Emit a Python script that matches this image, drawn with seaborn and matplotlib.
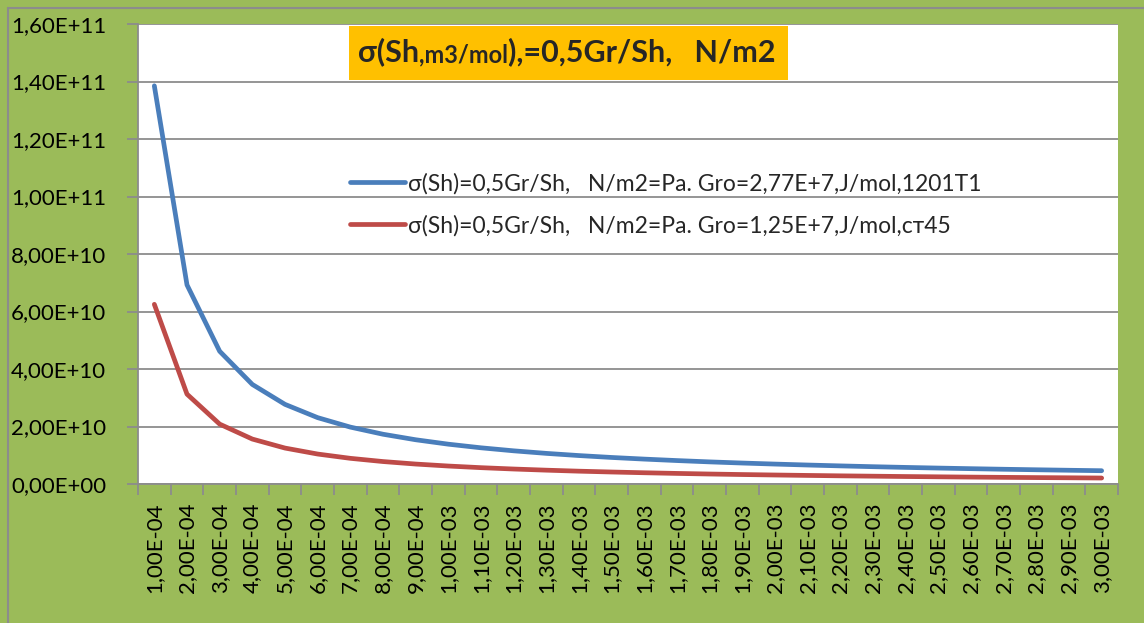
import matplotlib
matplotlib.use("Agg")
import matplotlib.pyplot as plt
from matplotlib.patches import Rectangle
from matplotlib.lines import Line2D
from matplotlib.text import Annotation
import numpy as np
import pandas as pd
import seaborn as sns

# Specific surface Sh, m3/mol (category labels)
sh_labels = [
    "1,00E-04", "2,00E-04", "3,00E-04", "4,00E-04", "5,00E-04", "6,00E-04",
    "7,00E-04", "8,00E-04", "9,00E-04", "1,00E-03", "1,10E-03", "1,20E-03",
    "1,30E-03", "1,40E-03", "1,50E-03", "1,60E-03", "1,70E-03", "1,80E-03",
    "1,90E-03", "2,00E-03", "2,10E-03", "2,20E-03", "2,30E-03", "2,40E-03",
    "2,50E-03", "2,60E-03", "2,70E-03", "2,80E-03", "2,90E-03", "3,00E-03",
]

# sigma(Sh), N/m2, for Gro = 2,77E+7 J/mol (1201T1)
sigma_1201 = [
    1.385e11, 6.925e10, 4.617e10, 3.463e10, 2.770e10, 2.308e10,
    1.979e10, 1.731e10, 1.539e10, 1.385e10, 1.259e10, 1.154e10,
    1.065e10, 9.89e9, 9.23e9, 8.66e9, 8.15e9, 7.69e9,
    7.29e9, 6.93e9, 6.60e9, 6.30e9, 6.02e9, 5.77e9,
    5.54e9, 5.33e9, 5.13e9, 4.95e9, 4.78e9, 4.62e9,
]

# sigma(Sh), N/m2, for Gro = 1,25E+7 J/mol (ст45)
sigma_st45 = [
    6.250e10, 3.125e10, 2.083e10, 1.563e10, 1.250e10, 1.042e10,
    8.93e9, 7.81e9, 6.94e9, 6.25e9, 5.68e9, 5.21e9,
    4.81e9, 4.46e9, 4.17e9, 3.91e9, 3.68e9, 3.47e9,
    3.29e9, 3.13e9, 2.98e9, 2.84e9, 2.72e9, 2.60e9,
    2.50e9, 2.40e9, 2.31e9, 2.23e9, 2.16e9, 2.08e9,
]

series_names = [
    "σ(Sh)=0,5Gr/Sh,   N/m2=Pa. Gro=2,77E+7,J/mol,1201T1",
    "σ(Sh)=0,5Gr/Sh,   N/m2=Pa. Gro=1,25E+7,J/mol,cт45",
]

y_ticks = [0, 2e10, 4e10, 6e10, 8e10, 1e11, 1.2e11, 1.4e11, 1.6e11]
y_tick_labels = ["0,00E+00", "2,00E+10", "4,00E+10", "6,00E+10", "8,00E+10",
                 "1,00E+11", "1,20E+11", "1,40E+11", "1,60E+11"]

title_text = ["σ(Sh", ",m3/mol", "),=0,5Gr/Sh,   N/m2"]

GREEN = "#9bbb59"
BLUE = "#4a7ebb"
RED = "#be4b48"
GRID = "#8c8c8c"

sns.set_theme(style="white")
plt.rcParams["font.family"] = ["Lato", "DejaVu Sans"]

W, H = 1144, 623
fig = plt.figure(figsize=(W / 100, H / 100), dpi=100, facecolor=GREEN)

# outer chart-area border (top and left edges)
fig.add_artist(Line2D([8 / W, 8 / W], [0, 1 - 8 / H], transform=fig.transFigure,
                      color="#8c8c8c", lw=1.5))
fig.add_artist(Line2D([8 / W, 1], [1 - 8 / H, 1 - 8 / H], transform=fig.transFigure,
                      color="#8c8c8c", lw=1.5))

left, right, top, bottom = 138, 1118, 24, 484
ax = fig.add_axes([left / W, 1 - bottom / H, (right - left) / W, (bottom - top) / H])
ax.set_facecolor("white")

n = len(sh_labels)
idx = np.arange(n)
df = pd.DataFrame({
    "idx": np.concatenate([idx, idx]),
    "sigma": sigma_1201 + sigma_st45,
    "series": [series_names[0]] * n + [series_names[1]] * n,
})

sns.lineplot(data=df, x="idx", y="sigma", hue="series", palette=[BLUE, RED],
             linewidth=3.4, ax=ax, legend=False, zorder=3)
for line in ax.get_lines():
    line.set_solid_capstyle("round")
    line.set_solid_joinstyle("round")

ax.set_xlim(-0.5, n - 0.5)
ax.set_ylim(0, 1.6e11)
ax.set_xlabel("")
ax.set_ylabel("")

TICK_FS = 16

# y axis
ax.set_yticks(y_ticks)
ax.set_yticklabels(y_tick_labels, fontsize=TICK_FS, color="black")
ax.yaxis.grid(True, color=GRID, linewidth=1.3, zorder=0)
ax.tick_params(axis="y", which="major", direction="out", length=8, width=1.3,
               color=GRID, pad=15, left=True)

# x axis: labels at category centres, tick marks at boundaries
ax.set_xticks(idx)
ax.set_xticklabels(sh_labels, rotation=90, fontsize=TICK_FS, color="black")
ax.set_xticks(np.arange(n + 1) - 0.5, minor=True)
ax.tick_params(axis="x", which="major", length=0, pad=13)
ax.tick_params(axis="x", which="minor", direction="out", length=8, width=1.3,
               color=GRID, bottom=True)

for side in ["top", "right"]:
    ax.spines[side].set_visible(False)
for side in ["left", "bottom"]:
    ax.spines[side].set_color(GRID)
    ax.spines[side].set_linewidth(1.3)

# legend
handles = [Line2D([], [], color=BLUE, lw=3.4, solid_capstyle="round"),
           Line2D([], [], color=RED, lw=3.4, solid_capstyle="round")]
fig.legend(handles, series_names, loc="upper left",
           bbox_to_anchor=(350 / W, 1 - 173 / H), frameon=False, fontsize=16.5,
           handlelength=2.4, handletextpad=0.13, labelspacing=0.88, borderpad=0,
           borderaxespad=0)

# title box
fig.add_artist(Rectangle((349 / W, 1 - 80 / H), (788 - 349) / W, (80 - 26) / H,
                         transform=fig.transFigure, facecolor="#ffc000",
                         edgecolor="none", zorder=5))
t1 = fig.text(358 / W, 1 - 61 / H, title_text[0], fontsize=22, fontweight="bold",
              va="baseline", ha="left", zorder=6)
t2 = Annotation(title_text[1], xy=(1, 0), xycoords=t1, va="bottom", ha="left",
                fontsize=17, fontweight="bold", zorder=6, annotation_clip=False)
fig.add_artist(t2)
t3 = Annotation(title_text[2], xy=(1, 0), xycoords=t2, va="bottom", ha="left",
                fontsize=22, fontweight="bold", zorder=6, annotation_clip=False)
fig.add_artist(t3)

fig.savefig("out.png", dpi=100, facecolor=GREEN)
